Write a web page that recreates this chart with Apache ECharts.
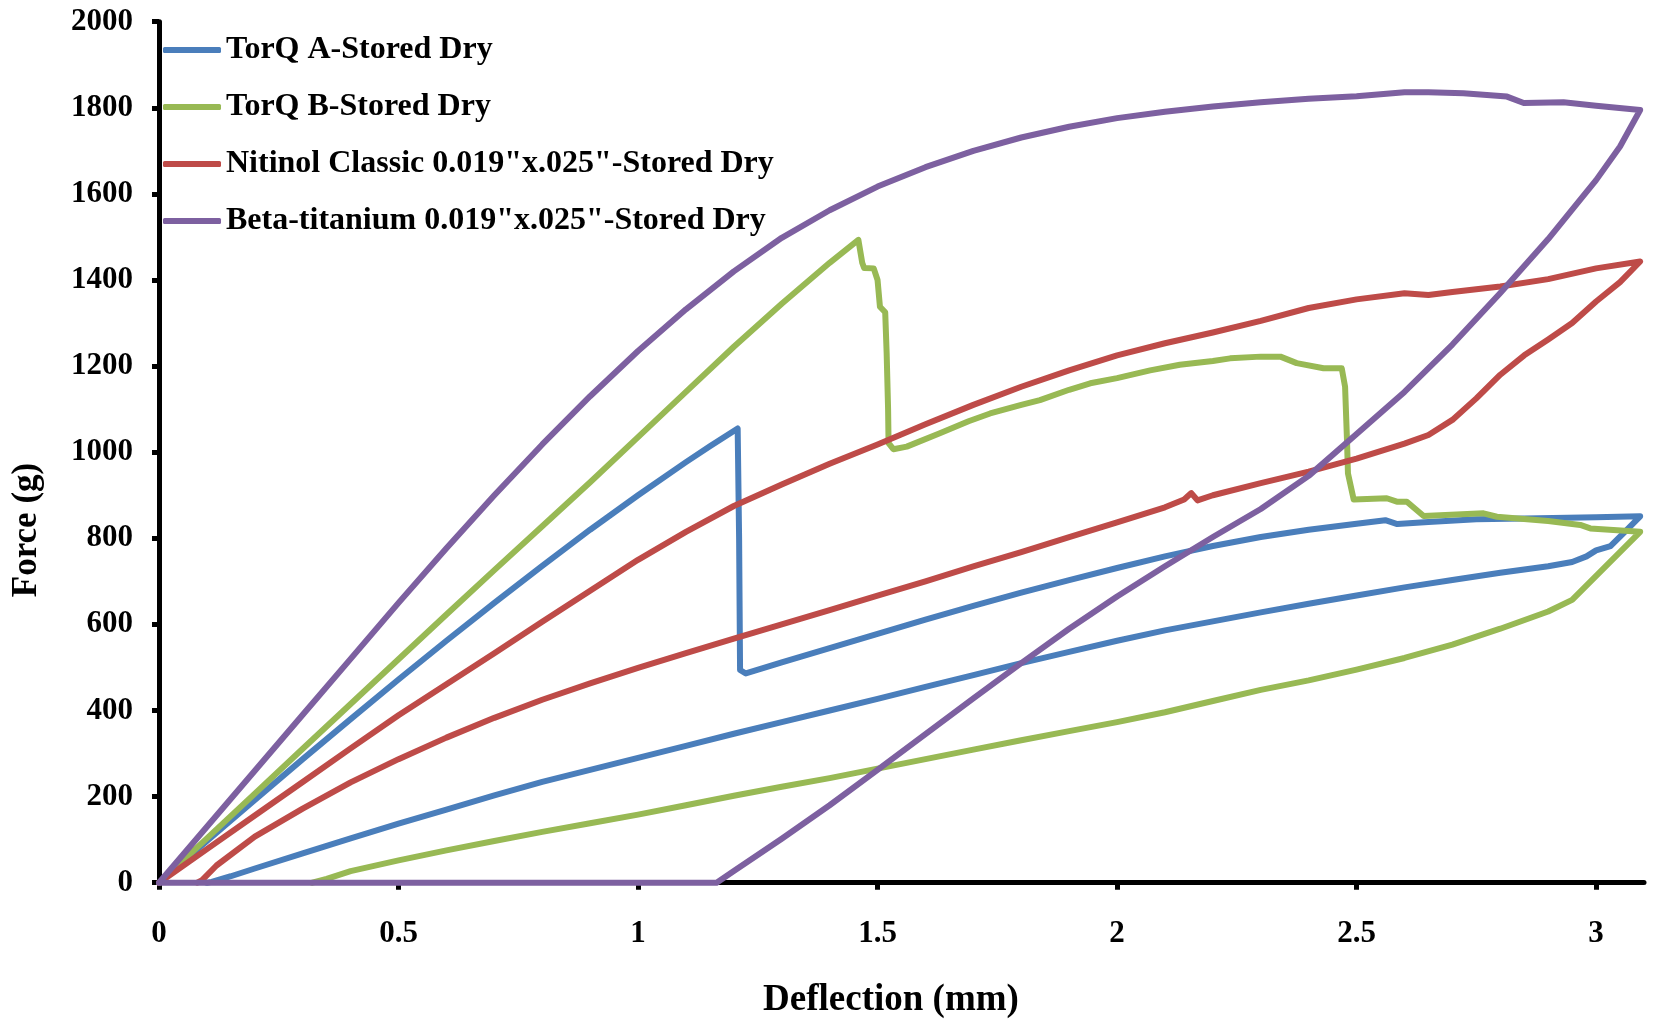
<!DOCTYPE html>
<html><head><meta charset="utf-8">
<script src="https://cdn.jsdelivr.net/npm/echarts@6/dist/echarts.min.js"></script>
<style>html,body{margin:0;padding:0;background:#fff}#c{width:1663px;height:1020px}</style>
</head><body><div id="c"></div>
<script>
const seriesNames = ["TorQ A-Stored Dry", "TorQ B-Stored Dry", "Nitinol Classic 0.019\"x.025\"-Stored Dry", "Beta-titanium 0.019\"x.025\"-Stored Dry"];
const xTicks = [0, 0.5, 1, 1.5, 2, 2.5, 3];
const yTicks = [0, 200, 400, 600, 800, 1000, 1200, 1400, 1600, 1800, 2000];

const torqA = [[0,0],[0.1,97],[0.2,192],[0.3,287],[0.4,380],[0.5,472],[0.6,562],[0.7,650],[0.8,736],[0.9,820],[1.0,900],[1.1,977],[1.15,1014],[1.208,1055],
 [1.211,800],[1.213,494],[1.225,486],[1.3,512],[1.4,545],[1.5,578],[1.6,611],[1.7,643],[1.8,674],[1.9,703],[2.0,731],[2.1,758],[2.2,782],[2.3,803],[2.4,820],[2.5,834],[2.56,842],[2.585,833],[2.65,838],[2.75,844],[2.85,846],[3.0,849],[3.092,851],
 [3.06,815],[3.03,782],[3.0,772],[2.98,758],[2.95,745],[2.9,735],[2.8,720],[2.7,703],[2.6,686],[2.5,667],[2.4,648],[2.3,628],[2.2,607],[2.1,586],[2.0,562],[1.9,536],[1.8,510],[1.7,482],[1.6,455],[1.5,427],[1.4,400],[1.3,373],[1.2,346],[1.1,318],[1.0,290],[0.9,262],[0.8,234],[0.7,203],[0.6,170],[0.5,137],[0.4,103],[0.3,68],[0.2,33],[0.15,15],[0.11,2],[0.1,0]];

const torqB = [[0,0],[0.1,103],[0.2,207],[0.3,311],[0.4,415],[0.5,519],[0.6,623],[0.7,726],[0.8,828],[0.9,930],[1.0,1035],[1.1,1140],[1.2,1245],[1.3,1345],[1.4,1440],[1.46,1493],
 [1.468,1440],[1.472,1428],[1.492,1427],[1.5,1400],[1.505,1338],[1.516,1325],[1.519,1230],[1.522,1100],[1.523,1021],[1.533,1007],[1.561,1013],[1.63,1044],[1.69,1072],[1.735,1090],[1.8,1110],[1.839,1121],[1.9,1145],[1.944,1160],[2.0,1172],[2.069,1190],[2.131,1203],[2.2,1212],[2.236,1218],[2.3,1222],[2.341,1222],[2.375,1207],[2.431,1195],[2.469,1195],[2.476,1152],[2.48,1028],[2.482,951],[2.494,890],[2.563,893],[2.584,885],[2.605,885],[2.64,852],[2.765,858],[2.793,850],[2.9,840],[2.967,831],[2.988,823],[3.092,815],
 [2.95,657],[2.9,630],[2.8,590],[2.7,553],[2.6,522],[2.5,495],[2.4,470],[2.3,448],[2.2,422],[2.1,396],[2.0,373],[1.9,352],[1.8,331],[1.7,309],[1.6,287],[1.5,265],[1.4,243],[1.3,223],[1.2,202],[1.1,180],[1.0,158],[0.9,138],[0.8,118],[0.7,97],[0.6,75],[0.5,52],[0.4,27],[0.35,9],[0.32,0]];

const nitinol = [[0,0],[0.1,78],[0.2,156],[0.3,234],[0.4,312],[0.5,389],[0.6,461],[0.7,533],[0.8,606],[0.9,678],[1.0,750],[1.1,815],[1.2,875],[1.3,925],[1.4,973],[1.5,1018],[1.6,1065],[1.7,1110],[1.8,1152],[1.9,1190],[2.0,1225],[2.1,1253],[2.2,1278],[2.3,1305],[2.4,1335],[2.5,1355],[2.6,1369],[2.65,1365],[2.7,1372],[2.8,1385],[2.9,1402],[3.0,1427],[3.092,1443],
 [3.05,1395],[3.0,1350],[2.95,1300],[2.9,1262],[2.85,1225],[2.8,1180],[2.75,1125],[2.7,1075],[2.65,1040],[2.6,1020],[2.5,985],[2.4,955],[2.3,928],[2.2,900],[2.168,888],[2.155,905],[2.14,890],[2.1,872],[2.0,837],[1.9,803],[1.8,768],[1.7,735],[1.6,700],[1.5,667],[1.4,633],[1.3,600],[1.2,567],[1.1,533],[1.0,499],[0.9,463],[0.8,425],[0.7,383],[0.6,337],[0.5,287],[0.4,233],[0.3,172],[0.2,107],[0.12,40],[0.09,6],[0.08,0]];

const beta = [[0,0],[0.1,130],[0.2,260],[0.3,390],[0.4,520],[0.5,650],[0.6,777],[0.7,900],[0.8,1018],[0.9,1130],[1.0,1235],[1.1,1332],[1.2,1420],[1.3,1498],[1.4,1562],[1.5,1617],[1.6,1662],[1.7,1700],[1.8,1731],[1.9,1756],[2.0,1776],[2.1,1791],[2.2,1803],[2.3,1813],[2.4,1821],[2.5,1827],[2.6,1836],[2.65,1836],[2.723,1834],[2.814,1826],[2.849,1811],[2.932,1813],[3.0,1805],[3.092,1795],
 [3.05,1710],[3.0,1632],[2.9,1495],[2.8,1370],[2.7,1250],[2.6,1140],[2.5,1042],[2.4,945],[2.3,868],[2.2,803],[2.1,735],[2.0,665],[1.9,590],[1.8,510],[1.7,428],[1.6,345],[1.5,262],[1.4,180],[1.3,102],[1.2,27],[1.164,0],[0,0]];

const colors = ['#4A7EBB', '#98B954', '#BE4B48', '#7D60A0'];
const FONT = '"Liberation Serif", "Times New Roman", serif';

const chart = echarts.init(document.getElementById('c'), null, {renderer: 'canvas'});
const mk = (name, data, color) => ({
  name, type: 'line', data, showSymbol: false, symbol: 'none', clip: false,
  lineStyle: {width: 6, color, cap: 'round', join: 'round'},
  itemStyle: {color}, emphasis: {disabled: true}
});
chart.setOption({
  animation: false,
  grid: {left: 159, top: 21.7, right: 19, bottom: 137.3},
  xAxis: {
    type: 'value', min: 0, max: 3.1, interval: 0.5,
    axisLine: {show: true, lineStyle: {color: '#000', width: 5}},
    axisTick: {show: true, length: 7, customValues: xTicks, lineStyle: {color: '#000', width: 5}},
    axisLabel: {customValues: xTicks, formatter: v => String(v), fontFamily: FONT, fontWeight: 'bold', fontSize: 31, color: '#000', margin: 36},
    splitLine: {show: false}
  },
  yAxis: {
    type: 'value', min: 0, max: 2000, interval: 200,
    axisLine: {show: true, lineStyle: {color: '#000', width: 5}},
    axisTick: {show: true, length: 7, customValues: yTicks, lineStyle: {color: '#000', width: 5}},
    axisLabel: {customValues: yTicks, formatter: v => String(v), fontFamily: FONT, fontWeight: 'bold', fontSize: 31, color: '#000', margin: 26},
    splitLine: {show: false}
  },
  legend: {
    data: seriesNames, orient: 'vertical', left: 163, top: 34, padding: 0,
    icon: 'roundRect', itemWidth: 58, itemHeight: 6, itemGap: 25,
    textStyle: {fontFamily: FONT, fontWeight: 'bold', fontSize: 32, color: '#000', lineHeight: 32}
  },
  graphic: [
    {type: 'text', x: 26.5, y: 530, rotation: Math.PI / 2,
     style: {text: 'Force (g)', font: 'bold 35px "Liberation Serif"', fill: '#000', align: 'center', verticalAlign: 'middle'}},
    {type: 'text', x: 891, y: 1000,
     style: {text: 'Deflection (mm)', font: 'bold 37px "Liberation Serif"', fill: '#000', align: 'center', verticalAlign: 'middle'}}
  ],
  series: [
    mk(seriesNames[0], torqA, colors[0]),
    mk(seriesNames[1], torqB, colors[1]),
    mk(seriesNames[2], nitinol, colors[2]),
    mk(seriesNames[3], beta, colors[3])
  ]
});
</script>
</body></html>
